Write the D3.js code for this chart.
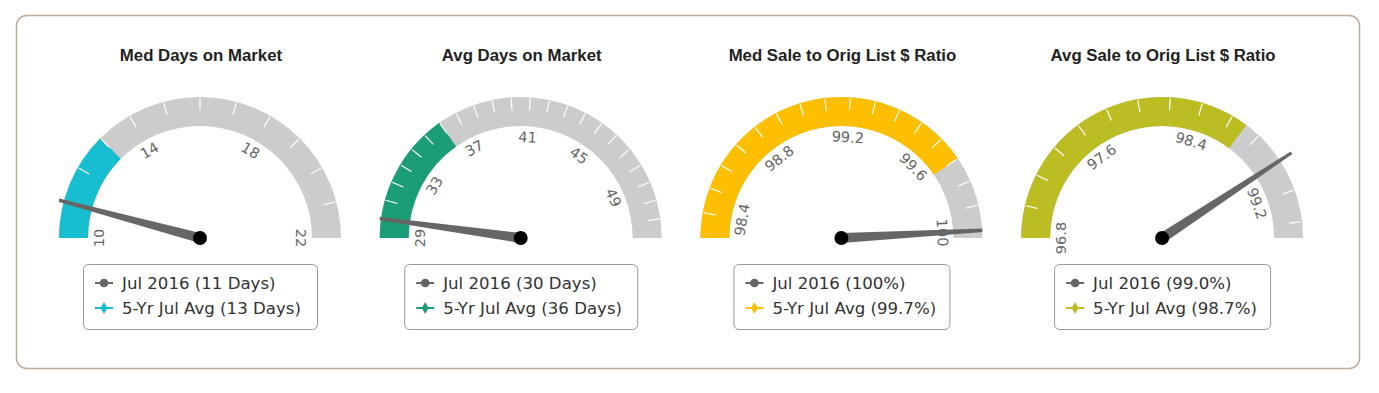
<!DOCTYPE html>
<html>
<head>
<meta charset="utf-8">
<script src="https://cdn.jsdelivr.net/npm/d3@7/dist/d3.min.js"></script>
<style>
  body { margin: 0; background: #fff; }
</style>
</head>
<body>
<script>
// gauge data
var titles = ["Med Days on Market", "Avg Days on Market", "Med Sale to Orig List $ Ratio", "Avg Sale to Orig List $ Ratio"];
var current = [11, 30, 100, 99.0];
var fiveYrAvg = [13, 36, 99.7, 98.7];
var mins = [10, 29, 98.3, 96.8];
var maxs = [22, 52, 100.03, 99.5];
var minorSteps = [1, 1, 0.1, 0.2];
var labelTicks = [
  [10, 14, 18, 22],
  [29, 33, 37, 41, 45, 49],
  [98.4, 98.8, 99.2, 99.6, 100],
  [96.8, 97.6, 98.4, 99.2]
];
var currentLabels = ["Jul 2016 (11 Days)", "Jul 2016 (30 Days)", "Jul 2016 (100%)", "Jul 2016 (99.0%)"];
var avgLabels = ["5-Yr Jul Avg (13 Days)", "5-Yr Jul Avg (36 Days)", "5-Yr Jul Avg (99.7%)", "5-Yr Jul Avg (98.7%)"];
var colors = ["#17becf", "#1b9e77", "#fdbf00", "#bcbd22"];

var W = 1379, H = 393;
var svg = d3.select("body").append("svg")
  .attr("width", W)
  .attr("height", H);

// outer frame
svg.append("rect")
  .attr("x", 16.5)
  .attr("y", 15.5)
  .attr("width", 1343)
  .attr("height", 353)
  .attr("rx", 10)
  .attr("fill", "#fff")
  .attr("stroke", "#bba99a")
  .attr("stroke-width", 1.5);

var defs = svg.append("defs");
var outerR = 141, innerR = 112, cy = 238;
var fmt = d3.format("~g");

titles.forEach(function(title, i) {
  var cx = 200 + i * 320.7;
  var g = svg.append("g").attr("transform", "translate(" + cx + "," + cy + ")");

  var angle = d3.scaleLinear()
    .domain([mins[i], maxs[i]])
    .range([-Math.PI / 2, Math.PI / 2]);

  // title
  svg.append("text")
    .attr("x", cx + 1)
    .attr("y", 61)
    .attr("text-anchor", "middle")
    .attr("font-family", "Liberation Sans, Arial, sans-serif")
    .attr("font-weight", "bold")
    .attr("font-size", 16.8)
    .attr("fill", "#222")
    .text(title);

  var arc = d3.arc().innerRadius(innerR).outerRadius(outerR);

  // background band
  g.append("path")
    .attr("d", arc({startAngle: -Math.PI / 2, endAngle: Math.PI / 2}))
    .attr("fill", "#cccccc");

  // 5-yr average band
  g.append("path")
    .attr("d", arc({startAngle: -Math.PI / 2, endAngle: angle(fiveYrAvg[i])}))
    .attr("fill", colors[i]);

  // minor ticks
  var step = minorSteps[i];
  var n = Math.floor((maxs[i] - mins[i]) / step + 1e-6);
  var ticks = d3.range(1, n + 1).map(function(k) { return +(mins[i] + k * step).toFixed(2); })
    .filter(function(v) { return v < maxs[i] - 1e-6; });

  g.selectAll(".tick")
    .data(ticks)
    .enter().append("line")
    .attr("x1", function(d) { return Math.sin(angle(d)) * (outerR - 1); })
    .attr("y1", function(d) { return -Math.cos(angle(d)) * (outerR - 1); })
    .attr("x2", function(d) { return Math.sin(angle(d)) * (outerR - 13); })
    .attr("y2", function(d) { return -Math.cos(angle(d)) * (outerR - 13); })
    .attr("stroke", "#fff")
    .attr("stroke-width", 1.2);

  // tick labels
  var labR = 101;
  g.selectAll(".lab")
    .data(labelTicks[i])
    .enter().append("text")
    .attr("transform", function(d) {
      var a = angle(d);
      return "translate(" + (Math.sin(a) * labR) + "," + (-Math.cos(a) * labR) + ") rotate(" + (a * 180 / Math.PI) + ")";
    })
    .attr("text-anchor", "middle")
    .attr("dy", "0.35em")
    .attr("font-family", "DejaVu Sans, Verdana, sans-serif")
    .attr("font-size", 14.5)
    .attr("fill", "#666")
    .text(function(d) { return fmt(d); });

  // needle, clipped to the plot area
  var clipId = "clip" + i;
  defs.append("clipPath").attr("id", clipId)
    .append("rect")
    .attr("x", -141).attr("y", -160)
    .attr("width", 282).attr("height", 200);

  var a = angle(current[i]);
  var len = 155, baseW = 5, tipW = 1.5;
  var ux = Math.sin(a), uy = -Math.cos(a);
  var px = -uy, py = ux;
  var pts = [
    [px * baseW, py * baseW],
    [ux * len + px * tipW, uy * len + py * tipW],
    [ux * len - px * tipW, uy * len - py * tipW],
    [-px * baseW, -py * baseW]
  ];
  g.append("g").attr("clip-path", "url(#" + clipId + ")")
    .append("path")
    .attr("d", d3.line()(pts) + "Z")
    .attr("fill", "#666");

  g.append("circle")
    .attr("r", 7)
    .attr("fill", "#000");

  // legend
  var lw = [234, 233, 216, 216][i];
  var lg = svg.append("g").attr("transform", "translate(" + (cx - lw / 2) + ",264)");
  lg.append("rect")
    .attr("x", 0.5).attr("y", 0.5)
    .attr("width", lw).attr("height", 65)
    .attr("rx", 5)
    .attr("fill", "#fff")
    .attr("stroke", "#999");

  var rows = [
    {label: currentLabels[i], color: "#666", shape: d3.symbolCircle},
    {label: avgLabels[i], color: colors[i], shape: d3.symbolDiamond}
  ];
  rows.forEach(function(r, k) {
    var y = 19 + k * 25;
    lg.append("line")
      .attr("x1", 12).attr("x2", 30)
      .attr("y1", y).attr("y2", y)
      .attr("stroke", r.color)
      .attr("stroke-width", 2);
    lg.append("path")
      .attr("transform", "translate(21," + y + ")")
      .attr("d", d3.symbol().type(r.shape).size(k === 0 ? 60 : 40)())
      .attr("fill", r.color);
    lg.append("text")
      .attr("x", 39)
      .attr("y", y)
      .attr("dy", "0.35em")
      .attr("font-family", "DejaVu Sans, Verdana, sans-serif")
      .attr("font-size", 16.6)
      .attr("fill", "#333")
      .text(r.label);
  });
});
</script>
</body>
</html>
